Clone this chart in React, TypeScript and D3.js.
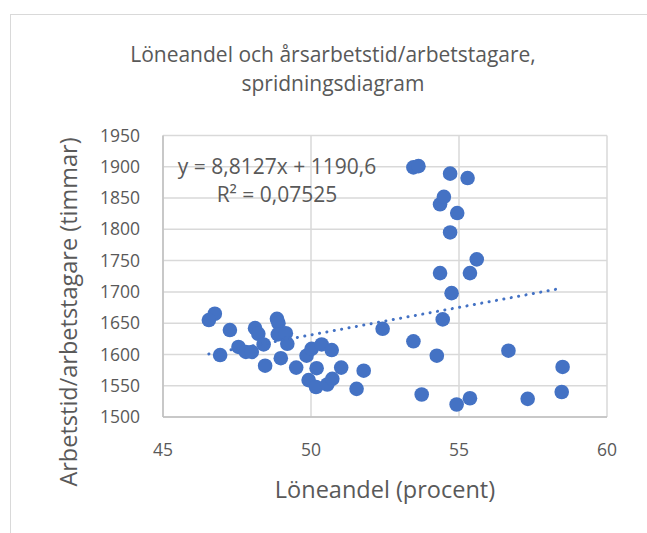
import React from "react";
import * as d3 from "d3";

const xValues: number[] = [
  46.75, 46.55, 46.93, 47.26, 47.55, 47.8, 48.0, 48.11, 48.22, 48.4,
  48.45, 48.85, 48.9, 48.88, 49.15, 49.2, 48.98, 49.5, 49.85, 50.02,
  50.36, 50.7, 50.19, 49.92, 50.17, 50.55, 50.72, 51.02, 51.54, 51.78,
  52.42, 53.46, 54.25, 53.74, 54.92, 55.37, 54.45, 54.75, 54.36, 55.37,
  55.6, 54.7, 54.94, 54.36, 54.49, 53.46, 53.63, 54.7, 55.29, 56.67,
  57.32, 58.5, 58.47,
];
const yValues: number[] = [
  1665, 1655, 1599, 1639, 1612, 1604, 1604, 1642, 1633, 1616,
  1582, 1657, 1650, 1632, 1634, 1617, 1594, 1579, 1598, 1609,
  1616, 1607, 1578, 1559, 1548, 1552, 1561, 1579, 1545, 1574,
  1641, 1621, 1598, 1536, 1520, 1530, 1656, 1698, 1730, 1730,
  1752, 1795, 1826, 1840, 1852, 1899, 1901, 1889, 1882, 1606,
  1529, 1580, 1540,
];
const xTicks: number[] = [45, 50, 55, 60];
const yTicks: number[] = [1500, 1550, 1600, 1650, 1700, 1750, 1800, 1850, 1900, 1950];
const trendSlope = 8.8127;
const trendIntercept = 1190.6;
const titleLines: string[] = ["Löneandel och årsarbetstid/arbetstagare,", "spridningsdiagram"];
const xTitle = "Löneandel (procent)";
const yTitle = "Arbetstid/arbetstagare (timmar)";
const eqLines: string[] = ["y = 8,8127x + 1190,6", "R² = 0,07525"];

const W = 647;
const H = 533;
const plot = { left: 163, right: 607, top: 135.5, bottom: 417 };
const FONT = "'Open Sans', 'Noto Sans', sans-serif";
const TXT = "#595959";
const BLUE = "#4472C4";

export default function App() {
  const x = d3.scaleLinear().domain([45, 60]).range([plot.left, plot.right]);
  const y = d3.scaleLinear().domain([1500, 1950]).range([plot.bottom, plot.top]);
  const xMin = d3.min(xValues) as number;
  const xMax = d3.max(xValues) as number;
  const line = d3
    .line<number>()
    .x((d) => x(d))
    .y((d) => y(trendSlope * d + trendIntercept));
  const pts = xValues.map((v, i) => ({ x: v, y: yValues[i] }));

  return (
    <svg
      width={W}
      height={H}
      style={{ position: "absolute", left: 0, top: 0, background: "#fff" }}
      fontFamily={FONT}
    >
      <rect x={0} y={0} width={W} height={H} fill="#fff" />
      <rect x={10.5} y={14.5} width={W + 10} height={H + 10} fill="none" stroke="#d9d9d9" strokeWidth={1} />
      {titleLines.map((t, i) => (
        <text key={i} x={333} y={62 + i * 29} textAnchor="middle" fontSize={21} fill={TXT}>
          {t}
        </text>
      ))}
      {yTicks.map((t) => (
        <line key={"gy" + t} x1={plot.left} x2={plot.right} y1={y(t)} y2={y(t)} stroke="#d9d9d9" strokeWidth={1.5} />
      ))}
      {xTicks.map((t) => (
        <line key={"gx" + t} x1={x(t)} x2={x(t)} y1={plot.top} y2={plot.bottom} stroke="#d9d9d9" strokeWidth={1.5} />
      ))}
      <line x1={plot.left} x2={plot.left} y1={plot.top} y2={plot.bottom} stroke="#bfbfbf" strokeWidth={1.5} />
      <line x1={plot.left} x2={plot.right} y1={plot.bottom} y2={plot.bottom} stroke="#bfbfbf" strokeWidth={1.5} />
      {yTicks.map((t) => (
        <text key={"ty" + t} x={140} y={y(t)} dy="0.35em" textAnchor="end" fontSize={17.5} fill={TXT}>
          {t}
        </text>
      ))}
      {xTicks.map((t) => (
        <text key={"tx" + t} x={x(t)} y={456} textAnchor="middle" fontSize={17.5} fill={TXT}>
          {t}
        </text>
      ))}
      <text x={385} y={498} textAnchor="middle" fontSize={23.5} fill={TXT}>
        {xTitle}
      </text>
      <text transform={`translate(77,312) rotate(-90)`} textAnchor="middle" fontSize={23.5} fill={TXT}>
        {yTitle}
      </text>
      {pts.map((p, i) => (
        <circle key={i} cx={x(p.x)} cy={y(p.y)} r={7.3} fill={BLUE} />
      ))}
      <path
        d={line([xMin, xMax]) || ""}
        fill="none"
        stroke={BLUE}
        strokeWidth={3}
        strokeLinecap="round"
        strokeDasharray="0.1 7.4"
      />
      {eqLines.map((t, i) => (
        <text key={"eq" + i} x={277} y={174 + i * 28} textAnchor="middle" fontSize={21} fill={TXT}>
          {t}
        </text>
      ))}
    </svg>
  );
}
